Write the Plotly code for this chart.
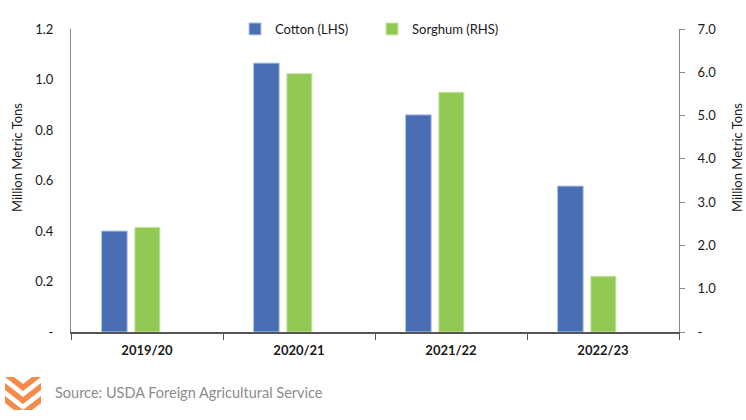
import plotly.graph_objects as go

# data
seasons = ["2019/20", "2020/21", "2021/22", "2022/23"]
cotton = [0.40, 1.065, 0.86, 0.578]     # million metric tons, left axis
sorghum = [2.42, 5.97, 5.54, 1.29]      # million metric tons, right axis

left_ticks = [0, 0.2, 0.4, 0.6, 0.8, 1.0, 1.2]
left_labels = ["-", "0.2", "0.4", "0.6", "0.8", "1.0", "1.2"]
right_ticks = [0, 1, 2, 3, 4, 5, 6, 7]
right_labels = ["-", "1.0", "2.0", "3.0", "4.0", "5.0", "6.0", "7.0"]

BLUE = "#4A6EB4"
GREEN = "#92C953"
FONT = "Lato"

W, H = 746, 420
# plot area in pixels: x 71..679, y 29..332
L, R, T, B = 71, 679, 29, 332


def px(x):
    return (x - L) / (R - L)


def py(y):
    return (B - y) / (B - T)


def poly(pts):
    return "M " + " L ".join(f"{px(x)},{py(y)}" for x, y in pts) + " Z"


fig = go.Figure()
fig.add_trace(go.Bar(x=seasons, y=cotton, name="Cotton (LHS)",
                     marker=dict(color=BLUE, line=dict(color="#B9C8E6", width=1)),
                     width=0.17, offset=-0.30, yaxis="y"))
fig.add_trace(go.Bar(x=seasons, y=sorghum, name="Sorghum (RHS)",
                     marker=dict(color=GREEN, line=dict(color="#CFE6B2", width=1)),
                     width=0.165, offset=-0.08, yaxis="y2"))

# orange chevron logo next to the source line
logo = [
    [(5, 377), (14, 377), (23, 384), (32, 377), (41, 377), (23, 391)],
    [(5, 383), (23, 397), (41, 383), (41, 390), (23, 404), (5, 390)],
    [(5, 396), (23, 410), (41, 396), (41, 403), (32, 410), (14, 410), (5, 403)],
]
shapes = [dict(type="path", xref="paper", yref="paper", path=poly(p),
               fillcolor="#F58A4B", line=dict(width=0)) for p in logo]

fig.update_layout(
    width=W, height=H,
    margin=dict(l=L, r=W - R, t=T, b=H - B, autoexpand=False),
    paper_bgcolor="white", plot_bgcolor="white",
    font=dict(family=FONT, size=13, color="#1a1a1a"),
    barmode="overlay",
    showlegend=True,
    legend=dict(orientation="h", x=px(235), y=py(14), xanchor="left", yanchor="top",
                font=dict(size=13), itemwidth=30, entrywidth=92, traceorder="normal"),
    xaxis=dict(showline=True, linecolor="#555", linewidth=1.5, ticks="outside",
               tickson="boundaries", ticklen=6, tickcolor="#555", ticklabelstandoff=6,
               tickfont=dict(family=FONT, size=13, weight="bold"), showgrid=False),
    yaxis=dict(range=[0, 1.2], tickvals=left_ticks, ticktext=left_labels,
               showline=True, linecolor="#888", showgrid=False, zeroline=False,
               ticks="", ticklabelstandoff=14),
    yaxis2=dict(range=[0, 7], tickvals=right_ticks, ticktext=right_labels,
                overlaying="y", side="right", showline=True, linecolor="#888",
                showgrid=False, zeroline=False, ticks="outside", ticklen=5,
                tickcolor="#888", ticklabelstandoff=10),
    shapes=shapes,
    annotations=[
        dict(text="Million Metric Tons", textangle=-90, xref="paper", yref="paper",
             x=px(17), y=py(158), xanchor="center", yanchor="middle",
             showarrow=False, font=dict(size=13)),
        dict(text="Million Metric Tons", textangle=-90, xref="paper", yref="paper",
             x=px(737), y=py(158), xanchor="center", yanchor="middle",
             showarrow=False, font=dict(size=13)),
        dict(text="Source: USDA Foreign Agricultural Service", xref="paper", yref="paper",
             x=px(53), y=py(393), xanchor="left", yanchor="middle", showarrow=False,
             font=dict(size=14.5, color="#8C8C8C")),
    ],
)

# drop the browser's default body margin so the figure sits at the page corner
fig.write_html("out.html", config={"displayModeBar": False},
               post_script="document.body.style.margin='0';document.body.style.overflow='hidden';")
